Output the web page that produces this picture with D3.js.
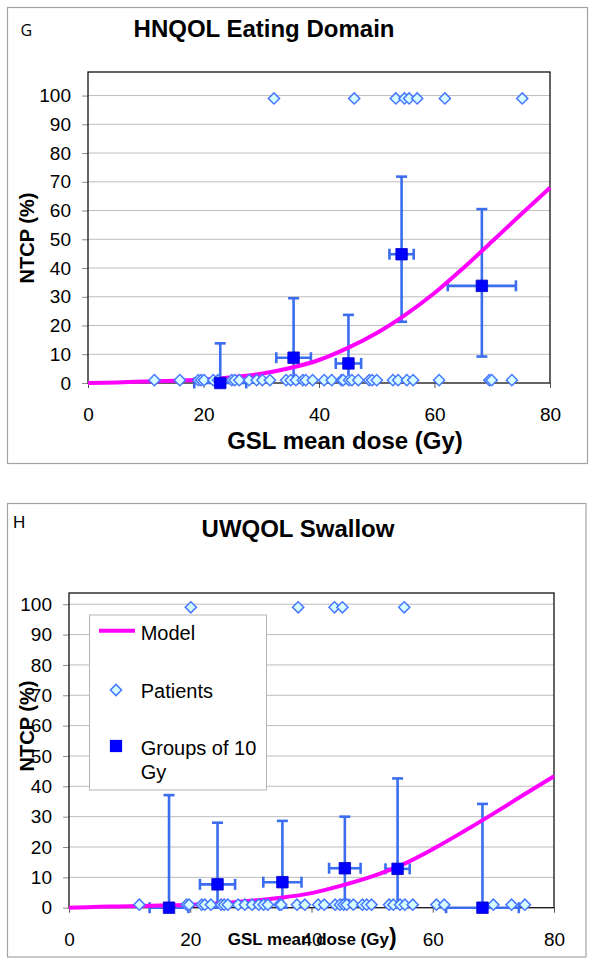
<!DOCTYPE html>
<html><head><meta charset="utf-8">
<script src="https://cdn.jsdelivr.net/npm/d3@7"></script>
<style>body{margin:0;background:#fff}svg{display:block}</style>
</head><body>
<svg id="c" width="594" height="965"></svg>
<script>
// ---------- shared ----------
const xTicks = [0, 20, 40, 60, 80];
const yTicks = [0, 10, 20, 30, 40, 50, 60, 70, 80, 90, 100];
const modelDose = [0, 5, 10, 15, 20, 25, 30, 35, 40, 45, 50, 55, 60, 65, 70, 75, 80];
const patientHighNTCP = 99;
const patientLowNTCP = 1;
const legendLabels = ["Model", "Patients", "Groups of 10", "Gy"];

// ---------- panel G : HNQOL Eating Domain ----------
const gModelNTCP = [0, 0.2, 0.5, 0.8, 1.2, 2, 3.2, 5.2, 8, 12.2, 17.4, 23.8, 31.3, 40, 49.3, 58.7, 67.9];
const gPatientsHigh = [32.2, 46.1, 53.3, 54.8, 55.6, 57.0, 61.8, 75.2];
const gPatientsLow = [11.5, 15.9, 19.1, 19.6, 20.1, 21.7, 22.5, 24.9, 25.4, 26.2, 27.9, 29.2, 30.2, 31.5,
  34.3, 35.1, 36.0, 37.2, 37.7, 38.9, 40.9, 42.2, 43.9, 44.2, 45.2, 45.7, 46.8, 48.7, 49.2, 50.0,
  52.8, 53.7, 55.2, 56.3, 60.8, 69.5, 69.9, 73.4];
const gGroupDose = [22.9, 35.6, 45.1, 54.3, 68.2];
const gGroupNTCP = [0, 8.8, 6.8, 44.8, 33.8];
const gGroupUpper = [13.8, 29.5, 23.7, 71.8, 60.5];
const gGroupLower = [0, 0, 0, 21.3, 9.2];
const gGroupDoseErr = [4.5, 3.0, 2.2, 2.1, 5.9];

// ---------- panel H : UWQOL Swallow ----------
const hModelNTCP = [0, 0.3, 0.5, 0.7, 1, 1.5, 2.3, 3.3, 4.8, 7.3, 10.3, 14.2, 19.3, 25, 31, 37.2, 43.3];
const hPatientsHigh = [20.1, 37.8, 43.8, 45.1, 55.3];
const hPatientsLow = [11.6, 19.4, 19.8, 21.9, 22.4, 23.4, 25.1, 25.6, 26.2, 27.9, 29.0, 30.2, 31.3, 32.1,
  32.8, 34.7, 35.0, 37.6, 38.9, 41.1, 42.1, 43.9, 44.7, 45.3, 45.8, 46.9, 48.4, 49.1, 49.9, 52.8,
  53.5, 54.6, 55.4, 56.7, 60.6, 61.9, 70.0, 73.0, 75.2];
const hGroupDose = [16.5, 24.5, 35.2, 45.5, 54.2, 68.2];
const hGroupNTCP = [0, 7.7, 8.4, 13, 12.8, 0];
const hGroupUpper = [37.1, 28, 28.6, 30, 42.6, 34.2];
const hGroupLower = [0, 0, 0, 2.5, 0, 0];
const hGroupDoseErr = [3.2, 2.9, 3.15, 2.6, 2.0, 6.0];

// ---------- drawing ----------
const svg = d3.select("#c");
const FONT = "'Liberation Sans', Arial, Helvetica, sans-serif";
const MAGENTA = "#ff00ff", EBAR = "#3c6cf0", DIA_STROKE = "#4677ff", DIA_FILL = "#d8ffff", SQ = "#0000ff";

function drawPanel(cfg) {
  const g = svg.append("g");
  g.append("rect").attr("x", cfg.frame[0]).attr("y", cfg.frame[1])
    .attr("width", cfg.frame[2]).attr("height", cfg.frame[3])
    .attr("fill", "#fff").attr("stroke", "#a3a3a3").attr("stroke-width", 1.2);

  const x = d3.scaleLinear().domain([0, 80]).range([cfg.plot.left, cfg.plot.right]);
  const y = d3.scaleLinear().domain([0, cfg.yMax]).range([cfg.plot.bottom, cfg.plot.top]);

  g.append("g").selectAll("line").data(yTicks.filter(d => d > 0)).join("line")
    .attr("x1", x(0)).attr("x2", x(80)).attr("y1", d => y(d)).attr("y2", d => y(d))
    .attr("stroke", "#bdbdbd").attr("stroke-width", 1);

  const ya = g.append("g").attr("transform", `translate(${x(0)},0)`)
    .call(d3.axisLeft(y).tickValues(yTicks).tickSize(6).tickPadding(11).tickFormat(d3.format("d")));
  ya.select(".domain").remove();
  ya.selectAll(".tick line").attr("stroke", "#8c8c8c");
  ya.selectAll("text").attr("font-family", FONT).attr("font-size", 19).attr("fill", "#000");

  const xa = g.append("g").attr("transform", `translate(0,${y(0)})`)
    .call(d3.axisBottom(x).tickValues(xTicks).tickSize(5).tickPadding(19.5));
  xa.select(".domain").remove();
  xa.selectAll(".tick line").attr("stroke", "#555");
  xa.selectAll("text").attr("font-family", FONT).attr("font-size", 19).attr("fill", "#000");

  g.append("rect").attr("x", x(0)).attr("y", y(cfg.yMax))
    .attr("width", x(80) - x(0)).attr("height", y(0) - y(cfg.yMax))
    .attr("fill", "none").attr("stroke", "#111").attr("stroke-width", 1.3);

  const groups = cfg.groupDose.map((d, i) => ({
    x: d, y: cfg.groupNTCP[i], up: cfg.groupUpper[i], lo: cfg.groupLower[i], dx: cfg.groupDoseErr[i]
  }));
  const eb = g.append("g").attr("stroke", EBAR).attr("stroke-width", 2.6).attr("fill", "none");
  const cap = 5.5;
  groups.forEach(p => {
    eb.append("line").attr("x1", x(p.x)).attr("x2", x(p.x)).attr("y1", y(p.lo)).attr("y2", y(p.up));
    eb.append("line").attr("x1", x(p.x) - cap).attr("x2", x(p.x) + cap).attr("y1", y(p.up)).attr("y2", y(p.up));
    eb.append("line").attr("x1", x(p.x) - cap).attr("x2", x(p.x) + cap).attr("y1", y(p.lo)).attr("y2", y(p.lo));
    eb.append("line").attr("x1", x(p.x - p.dx)).attr("x2", x(p.x + p.dx)).attr("y1", y(p.y)).attr("y2", y(p.y));
    eb.append("line").attr("x1", x(p.x - p.dx)).attr("x2", x(p.x - p.dx)).attr("y1", y(p.y) - cap).attr("y2", y(p.y) + cap);
    eb.append("line").attr("x1", x(p.x + p.dx)).attr("x2", x(p.x + p.dx)).attr("y1", y(p.y) - cap).attr("y2", y(p.y) + cap);
  });

  const line = d3.line().x(d => x(d[0])).y(d => y(d[1])).curve(d3.curveCatmullRom.alpha(0.5));
  g.append("path").datum(modelDose.map((d, i) => [d, cfg.model[i]]))
    .attr("d", line).attr("fill", "none").attr("stroke", MAGENTA).attr("stroke-width", 4)
    .attr("stroke-linejoin", "round");

  const dia = d3.symbol().type(d3.symbolSquare).size(62);
  const pts = cfg.patientsLow.map(d => [d, patientLowNTCP]).concat(cfg.patientsHigh.map(d => [d, patientHighNTCP]));
  g.append("g").selectAll("path").data(pts).join("path")
    .attr("d", dia).attr("transform", d => `translate(${x(d[0])},${y(d[1])}) rotate(45)`)
    .attr("fill", DIA_FILL).attr("stroke", DIA_STROKE).attr("stroke-width", 1.5);

  const sq = d3.symbol().type(d3.symbolSquare).size(132);
  g.append("g").selectAll("path").data(groups).join("path")
    .attr("d", sq).attr("transform", d => `translate(${x(d.x)},${y(d.y)})`)
    .attr("fill", SQ).attr("stroke", "#0000cc").attr("stroke-width", 0.8);

  g.append("text").attr("x", cfg.letter.x).attr("y", cfg.letter.y).text(cfg.letter.t)
    .attr("font-family", cfg.letter.font).attr("font-size", cfg.letter.size).attr("fill", "#000");
  g.append("text").attr("x", cfg.title.x).attr("y", cfg.title.y).text(cfg.title.t)
    .attr("text-anchor", "middle").attr("font-family", FONT).attr("font-weight", "bold")
    .attr("font-size", 24).attr("fill", "#000");
  g.append("text").attr("transform", `translate(${cfg.ytitle.x},${cfg.ytitle.y}) rotate(-90)`)
    .attr("text-anchor", "middle").text("NTCP (%)")
    .attr("font-family", FONT).attr("font-weight", "bold").attr("font-size", 20).attr("fill", "#000");
  cfg.drawXTitle(g);
  return { x, y };
}

drawPanel({
  frame: [7.5, 7.5, 580, 456],
  plot: { left: 88, right: 550, top: 72, bottom: 383 },
  yMax: 108.2,
  model: gModelNTCP,
  patientsHigh: gPatientsHigh, patientsLow: gPatientsLow,
  groupDose: gGroupDose, groupNTCP: gGroupNTCP, groupUpper: gGroupUpper,
  groupLower: gGroupLower, groupDoseErr: gGroupDoseErr,
  letter: { t: "G", x: 20.5, y: 35.5, size: 16, font: "'Open Sans', 'DejaVu Sans', sans-serif" },
  title: { t: "HNQOL Eating Domain", x: 264, y: 36.5 },
  ytitle: { x: 34, y: 238 },
  drawXTitle: g => g.append("text").attr("x", 345).attr("y", 449.3).attr("text-anchor", "middle")
    .text("GSL mean dose (Gy)").attr("font-family", FONT).attr("font-weight", "bold")
    .attr("font-size", 24).attr("fill", "#000")
});

drawPanel({
  frame: [7.5, 503.5, 578.5, 453.5],
  plot: { left: 69, right: 554, top: 593, bottom: 907.7 },
  yMax: 103.7,
  model: hModelNTCP,
  patientsHigh: hPatientsHigh, patientsLow: hPatientsLow,
  groupDose: hGroupDose, groupNTCP: hGroupNTCP, groupUpper: hGroupUpper,
  groupLower: hGroupLower, groupDoseErr: hGroupDoseErr,
  letter: { t: "H", x: 13, y: 527.5, size: 17, font: FONT },
  title: { t: "UWQOL Swallow", x: 298, y: 536.8 },
  ytitle: { x: 34, y: 726 },
  drawXTitle: g => {
    const t = g.append("text").attr("x", 227.7).attr("y", 945)
      .attr("font-family", FONT).attr("font-weight", "bold").attr("fill", "#000");
    t.append("tspan").attr("font-size", 17).text("GSL mean dose (Gy");
    t.append("tspan").attr("font-size", 23).text(")");
  }
});

// legend (panel H)
const lg = svg.append("g");
lg.append("rect").attr("x", 89.5).attr("y", 615).attr("width", 177).attr("height", 175)
  .attr("fill", "#fff").attr("stroke", "#b5b5b5").attr("stroke-width", 1);
lg.append("line").attr("x1", 99).attr("x2", 135).attr("y1", 630.7).attr("y2", 630.7)
  .attr("stroke", MAGENTA).attr("stroke-width", 4);
lg.append("path").attr("d", d3.symbol().type(d3.symbolSquare).size(62))
  .attr("transform", "translate(116,690) rotate(45)")
  .attr("fill", DIA_FILL).attr("stroke", DIA_STROKE).attr("stroke-width", 1.5);
lg.append("path").attr("d", d3.symbol().type(d3.symbolSquare).size(150))
  .attr("transform", "translate(116,746)").attr("fill", SQ);
const legendY = [640, 698.3, 755, 779];
lg.selectAll("text").data(legendLabels).join("text")
  .attr("x", 140.7).attr("y", (d, i) => legendY[i]).text(d => d)
  .attr("font-family", FONT).attr("font-size", 20).attr("fill", "#000");
</script>
</body></html>
